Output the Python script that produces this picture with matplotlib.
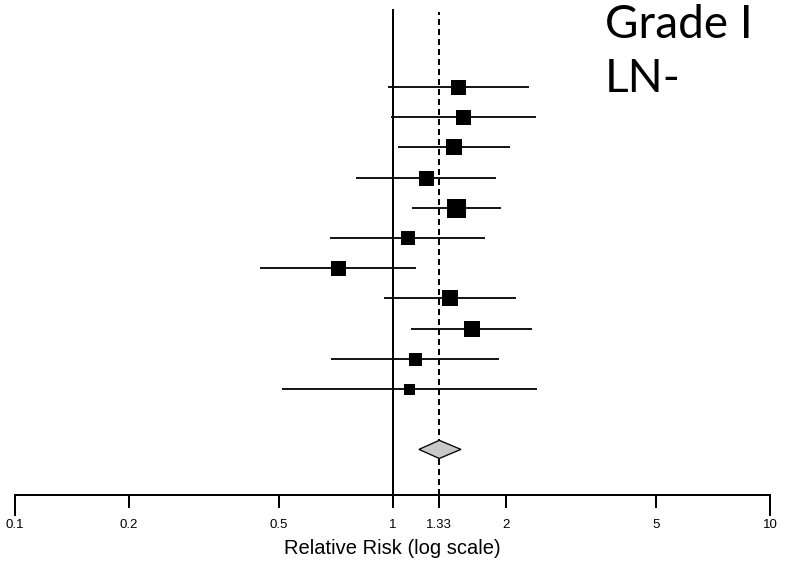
import matplotlib
matplotlib.use("Agg")
import matplotlib.pyplot as plt
import numpy as np

# ---- data ----
rr_est = [1.49, 1.54, 1.455, 1.224, 1.476, 1.097, 0.716, 1.423, 1.62, 1.149, 1.108]
rr_lo = [0.971, 0.991, 1.032, 0.80, 1.128, 0.683, 0.446, 0.951, 1.119, 0.687, 0.511]
rr_hi = [2.30, 2.40, 2.05, 1.877, 1.934, 1.761, 1.152, 2.128, 2.346, 1.918, 2.41]
box_weight = [15, 15, 16, 15, 19, 14, 15, 16, 16, 13, 11]
pooled = (1.175, 1.33, 1.518)
tick_vals = [0.1, 0.2, 0.5, 1, 1.33, 2, 5, 10]
tick_labels = ["0.1", "0.2", "0.5", "1", "1.33", "2", "5", "10"]

W, H = 794, 562
fig = plt.figure(figsize=(W / 100, H / 100), dpi=100)
ax = fig.add_axes([15 / W, (H - 495) / H, 755 / W, 495 / H])
ax.set_xscale("log")
ax.set_xlim(0.1, 10)
ax.set_ylim(14.51, -1.88)

rows = np.arange(1, len(rr_est) + 1)
px2pt = 72 / 100

# reference lines
ax.axvline(1, ymin=0, ymax=(495 - 10) / 495, color="black", lw=2 * px2pt, zorder=1)
ax.axvline(1.33, ymin=0, ymax=(495 - 12) / 495, color="black", lw=2 * px2pt,
           linestyle=(0, (3.0, 2.0)), zorder=1)

# CIs and boxes
ax.hlines(rows, rr_lo, rr_hi, color="black", lw=1.8 * px2pt, zorder=2)
for r, e, w in zip(rows, rr_est, box_weight):
    ax.plot([e], [r], marker="s", ms=w * px2pt, color="black", mec="black", mew=0, zorder=3)

# pooled diamond
pr = len(rr_est) + 2
lo, est, hi = pooled
ax.fill([lo, est, hi, est], [pr, pr - 0.3, pr, pr + 0.3], facecolor="#c8c8c8",
        edgecolor="black", lw=1.3 * px2pt, zorder=3)

# axis styling
for s in ["top", "left", "right"]:
    ax.spines[s].set_visible(False)
ax.spines["bottom"].set_linewidth(2 * px2pt)
ax.set_yticks([])
ax.xaxis.set_minor_locator(matplotlib.ticker.NullLocator())
ax.set_xticks(tick_vals)
ax.set_xticklabels(tick_labels, fontsize=9.5, family="Liberation Sans")
ax.tick_params(axis="x", which="major", length=9, width=2 * px2pt, pad=8)
ax.xaxis.remove_overlapping_locs = False
ax.set_xticks([tick_vals[0], tick_vals[-1]], minor=True)
ax.tick_params(axis="x", which="minor", length=15, width=2 * px2pt)
ax.xaxis.set_minor_formatter(matplotlib.ticker.NullFormatter())
ax.set_xlabel("Relative Risk (log scale)", fontsize=14.5, family="Liberation Sans", labelpad=6)

# side annotation
fig.text(605 / W, 1 - 38 / H, "Grade I", fontsize=33, family="Lato", va="baseline", ha="left")
fig.text(605 / W, 1 - 92 / H, "LN-", fontsize=33, family="Lato", va="baseline", ha="left")

fig.savefig("out.png", dpi=100)
